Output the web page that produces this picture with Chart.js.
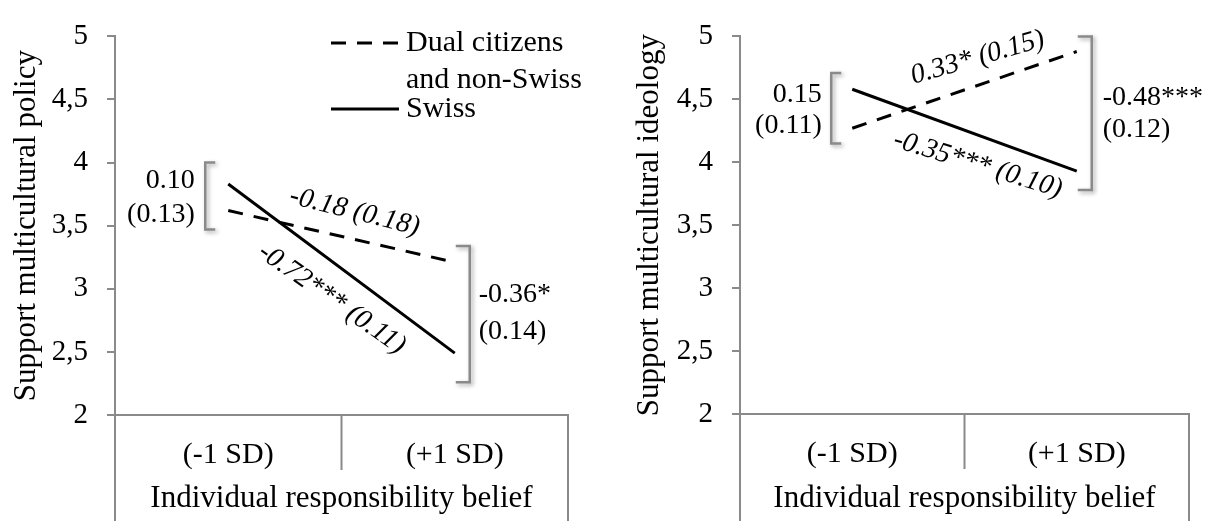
<!DOCTYPE html>
<html>
<head>
<meta charset="utf-8">
<script src="https://cdn.jsdelivr.net/npm/chart.js@4"></script>
<style>
  html, body { margin: 0; padding: 0; background: #fff; }
  #wrap { position: relative; width: 1210px; height: 521px; }
  .box { position: absolute; top: 0; width: 605px; height: 521px; }
</style>
</head>
<body>
<div id="wrap">
  <div class="box" style="left:0"><canvas id="policy" width="605" height="521"></canvas></div>
  <div class="box" style="left:605px"><canvas id="ideology" width="605" height="521"></canvas></div>
</div>
<script>
// data
const categories = ['(-1 SD)', '(+1 SD)'];
const yTicks = [2, 2.5, 3, 3.5, 4, 4.5, 5];
const dualLabel = ['Dual citizens', 'and non-Swiss'];
const swissLabel = ['Swiss'];
const policyDual = [3.62, 3.21];
const policySwiss = [3.83, 2.49];
const ideologyDual = [4.27, 4.88];
const ideologySwiss = [4.58, 3.93];

// bracket ranges [category, from, to]
const policyBrackets = [[0, 3.47, 4.0], [1, 2.26, 3.34]];
const ideologyBrackets = [[0, 4.15, 4.71], [1, 3.78, 5.0]];

const serif = "'Liberation Serif', 'Times New Roman', serif";
const gray = '#8a8a8a';

// text notes: text, category position, value position, align, angle
const policyNotes = [
  ['0.10', -0.148, 3.86, 'right', 0],
  ['(0.13)', -0.148, 3.59, 'right', 0],
  ['-0.36*', 1.106, 2.95, 'left', 0],
  ['(0.14)', 1.106, 2.66, 'left', 0],
  ['-0.18 (0.18)', 0.558, 3.61, 'center', 14],
  ['-0.72*** (0.11)', 0.457, 2.92, 'center', 35]
];
const ideologyNotes = [
  ['0.15', -0.136, 4.54, 'right', 0],
  ['(0.11)', -0.136, 4.29, 'right', 0],
  ['-0.48***', 1.116, 4.51, 'left', 0],
  ['(0.12)', 1.116, 4.26, 'left', 0],
  ['0.33* (0.15)', 0.559, 4.83, 'center', -16],
  ['-0.35*** (0.10)', 0.559, 3.98, 'center', 17]
];

const extras = {
  id: 'extras',
  afterDatasetsDraw(chart, args, opts) {
    const ctx = chart.ctx;
    const x = chart.scales.x, y = chart.scales.y;
    const area = chart.chartArea;
    ctx.save();

    // box lines under the category axis
    ctx.strokeStyle = gray;
    ctx.lineWidth = 2;
    const mid = (x.getPixelForValue(0) + x.getPixelForValue(1)) / 2;
    ctx.beginPath();
    ctx.moveTo(area.left, area.bottom); ctx.lineTo(area.left, chart.height);
    ctx.moveTo(area.right, area.bottom); ctx.lineTo(area.right, chart.height);
    ctx.moveTo(mid, area.bottom); ctx.lineTo(mid, area.bottom + 55);
    ctx.stroke();

    // brackets
    ctx.save();
    ctx.shadowColor = 'rgba(0,0,0,0.35)';
    ctx.shadowBlur = 4;
    ctx.shadowOffsetX = 2;
    ctx.shadowOffsetY = 2;
    ctx.lineWidth = 2.5;
    opts.brackets.forEach(b => {
      const side = b[0] === 0 ? -1 : 1;
      const px = x.getPixelForValue(b[0]) + (side < 0 ? -opts.gapL : opts.gapR);
      const arm = side < 0 ? 10 : -14;
      const y1 = y.getPixelForValue(b[2]), y2 = y.getPixelForValue(b[1]);
      ctx.beginPath();
      ctx.moveTo(px + arm, y1);
      ctx.lineTo(px, y1);
      ctx.lineTo(px, y2);
      ctx.lineTo(px + arm, y2);
      ctx.stroke();
    });
    ctx.restore();

    // notes
    ctx.fillStyle = '#000';
    ctx.textBaseline = 'middle';
    opts.notes.forEach(n => {
      const px = x.getPixelForValue(n[1]);
      const py = y.getPixelForValue(n[2]);
      ctx.save();
      ctx.translate(px, py);
      ctx.rotate(n[4] * Math.PI / 180);
      ctx.font = (n[4] ? 'italic ' : '') + '28px ' + serif;
      ctx.textAlign = n[3];
      ctx.fillText(n[0], 0, 0);
      ctx.restore();
    });

    // legend inside plot
    if (opts.legend) {
      const lg = opts.legend;
      ctx.font = '30px ' + serif;
      ctx.textAlign = 'left';
      let ly = lg.y;
      chart.data.datasets.forEach(ds => {
        ctx.save();
        ctx.strokeStyle = ds.borderColor;
        ctx.lineWidth = ds.borderWidth;
        ctx.setLineDash(ds.borderDash || []);
        ctx.beginPath();
        ctx.moveTo(lg.x, ly);
        ctx.lineTo(lg.x + 68, ly);
        ctx.stroke();
        ctx.restore();
        ds.label.forEach((t, i) => {
          ctx.fillText(t, lg.x + 75, ly + i * 37);
        });
        ly += ds.label.length * 33;
      });
    }
    ctx.restore();
  }
};

function makeChart(id, dual, swiss, title, cfg) {
  return new Chart(document.getElementById(id), {
    type: 'line',
    data: {
      labels: categories,
      datasets: [
        { label: dualLabel, data: dual, borderColor: '#000', borderWidth: 3, borderDash: [15, 11], pointRadius: 0, tension: 0 },
        { label: swissLabel, data: swiss, borderColor: '#000', borderWidth: 3, pointRadius: 0, tension: 0 }
      ]
    },
    options: {
      responsive: false,
      animation: false,
      devicePixelRatio: 1,
      layout: { padding: { top: cfg.top, right: cfg.right, left: 0, bottom: 0 } },
      plugins: {
        legend: { display: false },
        tooltip: { enabled: false },
        extras: { brackets: cfg.brackets, notes: cfg.notes, legend: cfg.legend, gapL: cfg.gapL, gapR: cfg.gapR }
      },
      scales: {
        x: {
          type: 'category',
          offset: true,
          afterFit: s => { s.height = cfg.xHeight; },
          grid: { display: false, drawTicks: false },
          border: { display: true, color: gray, width: 2 },
          ticks: { color: '#000', padding: 22, font: { family: serif, size: 30 } },
          title: { display: true, text: 'Individual responsibility belief', color: '#000', padding: { top: 0, bottom: 4 }, font: { family: serif, size: 31 } }
        },
        y: {
          min: 2,
          max: 5,
          afterFit: s => { s.width = cfg.yWidth; },
          afterBuildTicks: s => { s.ticks = yTicks.map(v => ({ value: v })); },
          grid: { drawOnChartArea: false, drawTicks: true, tickLength: 8, color: gray, lineWidth: 2 },
          border: { display: true, color: gray, width: 2 },
          ticks: {
            color: '#000',
            padding: 19,
            font: { family: serif, size: 29 },
            callback: v => String(v).replace('.', ',')
          },
          title: { display: true, text: title, color: '#000', padding: { top: cfg.titlePad, bottom: 0 }, font: { family: serif, size: 31 } }
        }
      }
    },
    plugins: [extras]
  });
}

makeChart('policy', policyDual, policySwiss, 'Support multicultural policy', {
  top: 28, right: 37, yWidth: 115, xHeight: 106, titlePad: 8,
  brackets: policyBrackets, notes: policyNotes, gapL: 23, gapR: 15,
  legend: { x: 331, y: 43 }
});

makeChart('ideology', ideologyDual, ideologySwiss, 'Support multicultural ideology', {
  top: 26, right: 21, yWidth: 135, xHeight: 107, titlePad: 26,
  brackets: ideologyBrackets, notes: ideologyNotes, gapL: 21, gapR: 15,
  legend: null
});
</script>
</body>
</html>
